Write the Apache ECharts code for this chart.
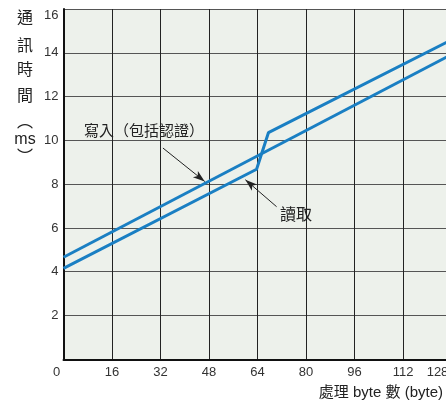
<!DOCTYPE html>
<html><head><meta charset="utf-8">
<script src="https://cdn.jsdelivr.net/npm/echarts@6/dist/echarts.min.js"></script>
<style>html,body{margin:0;padding:0;background:#fff;}#c{width:446px;height:403px;}</style>
</head><body><div id="c"></div>
<script>
// ---- data ----
const writeName = '寫入（包括認證）';
const writeX = [0, 128];
const writeY = [4.66, 13.92];
const readName = '讀取';
const readX = [0, 63.7, 67.6, 128];
const readY = [4.15, 8.68, 10.35, 14.59];
const xMin = 0, xMax = 128, xStep = 16;
const yMin = 0, yMax = 16, yStep = 2;
const yTitleChars = ['通', '訊', '時', '間', '︵', 'ms', '︶'];
const xTitle = '處理 byte 數 (byte)';
// annotation arrows in data coords [from, to]
const writeArrow = [[32.8, 9.65], [46.6, 8.12]];
const readArrow = [[70.3, 6.97], [60.0, 8.2]];

const cjk = '"Noto Sans CJK TC","Noto Sans CJK SC",sans-serif';
const latin = 'Liberation Sans, Arial, sans-serif';
const chart = echarts.init(document.getElementById('c'), null, {renderer: 'canvas'});
const zip = (xs, ys) => xs.map((x, i) => [x, ys[i]]);
const arrowMark = (a) => ({
  silent: true, symbol: ['none', 'arrow'], symbolSize: [6, 12],
  lineStyle: {color: '#222', width: 1, type: 'solid'},
  label: {show: false},
  data: [[{coord: a[0]}, {coord: a[1]}]]
});
const yCenters = [17, 45, 69, 95, 121, 140, 156];
const lbl = {fontSize: 13, color: '#333', fontFamily: latin};
chart.setOption({
  animation: false,
  backgroundColor: '#fff',
  grid: {left: 63.5, top: 9, right: -5.5, bottom: 43.7, show: true, backgroundColor: '#edf1eb', borderWidth: 0,
    containLabel: false, outerBoundsMode: 'none'},
  xAxis: {
    type: 'value', min: xMin, max: xMax, interval: xStep,
    axisLine: {show: true, onZero: false, lineStyle: {color: '#111', width: 2}},
    axisTick: {show: false},
    splitLine: {show: true, lineStyle: {color: '#222', width: 1}},
    axisLabel: Object.assign({}, lbl, {
      margin: 7, hideOverlap: false, showMaxLabel: true,
      formatter: v => v === xMin ? '{z|' + v + '}' : v === xMax ? '{m|' + v + '}' : String(v),
      rich: {z: Object.assign({padding: [0, 14, 0, 0]}, lbl), m: Object.assign({padding: [0, 28, 0, 0]}, lbl)}
    })
  },
  yAxis: {
    type: 'value', min: yMin, max: yMax, interval: yStep,
    axisLine: {show: true, onZero: false, lineStyle: {color: '#111', width: 2}},
    axisTick: {show: false},
    splitLine: {show: true, lineStyle: {color: '#555', width: 1}},
    axisLabel: Object.assign({}, lbl, {margin: 5, showMaxLabel: true,
      formatter: v => v === yMin ? '' : v === yMax ? '{t|' + v + '}' : String(v),
      rich: {t: Object.assign({padding: [12, 0, 0, 0]}, lbl)}})
  },
  series: [
    {name: writeName, type: 'line', data: zip(writeX, writeY), symbol: 'none', clip: true,
      lineStyle: {color: '#1a7fc3', width: 3}, z: 3, markLine: arrowMark(writeArrow)},
    {name: readName, type: 'line', data: zip(readX, readY), symbol: 'none', clip: true,
      lineStyle: {color: '#1a7fc3', width: 3}, z: 3, markLine: arrowMark(readArrow)}
  ],
  graphic: [
    ...yTitleChars.map((ch, i) => ({
      type: 'text', z: 10,
      style: {text: ch, x: 25, y: yCenters[i], align: 'center', verticalAlign: 'middle',
        font: (ch === 'ms' ? '16px ' + latin : '16px ' + cjk), fill: '#222'}
    })),
    {type: 'text', z: 10, style: {text: writeName, x: 84, y: 130, align: 'left', verticalAlign: 'middle',
      font: '15px ' + cjk, fill: '#222'}},
    {type: 'text', z: 10, style: {text: readName, x: 280, y: 214, align: 'left', verticalAlign: 'middle',
      font: '16px ' + cjk, fill: '#222'}},
    {type: 'text', z: 10, style: {text: xTitle, x: 443, y: 393, align: 'right', verticalAlign: 'middle',
      font: '15px ' + latin + ', ' + cjk, fill: '#222'}}
  ]
});
</script></body></html>
